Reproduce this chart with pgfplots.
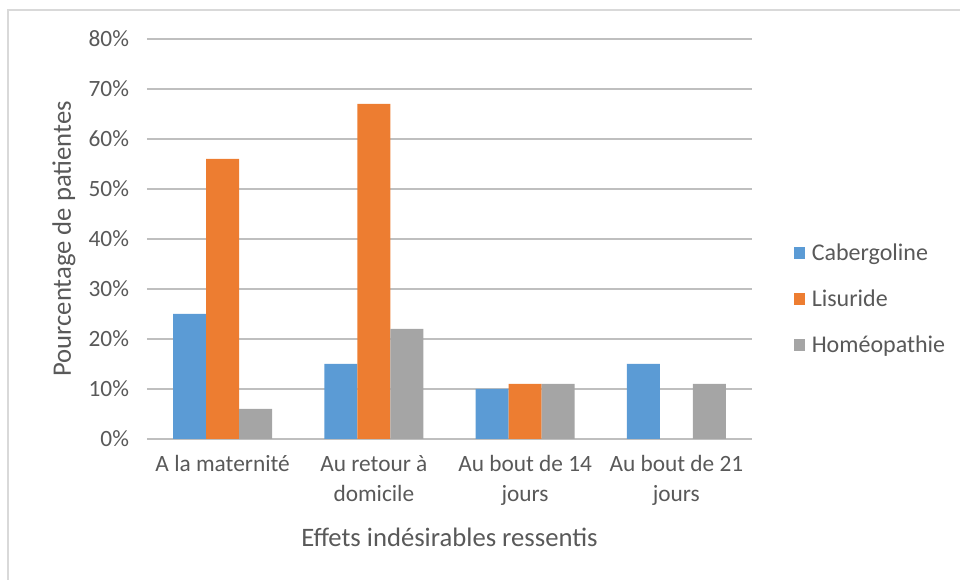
\documentclass[border=0pt]{standalone}
\usepackage{pgfplots}
\pgfplotsset{compat=1.18}
\usepackage{fontspec}
\setmainfont{Carlito}
\definecolor{cblue}{HTML}{5B9BD5}
\definecolor{corange}{HTML}{ED7D31}
\definecolor{cgray}{HTML}{A5A5A5}
\definecolor{txt}{HTML}{595959}
\definecolor{grid}{HTML}{D9D9D9}
\begin{document}
\begin{tikzpicture}[x=0.75pt,y=0.75pt]
\def\px{0.75pt}
\path[use as bounding box] (-147,-141) rectangle (813,439);
\draw[grid,line width=1.5pt] (-139,-141) -- (-139,429) -- (813,429);
\begin{axis}[
  at={(0,0)}, anchor=south west,
  scale only axis,
  width=605*\px, height=400*\px,
  xmin=-0.5, xmax=3.5,
  ymin=0, ymax=80,
  ybar=0pt, bar width=33*\px,
  xtick={0,1,2,3},
  xticklabels={A la maternité, {Au retour à\\domicile}, {Au bout de 14\\jours}, {Au bout de 21\\jours}},
  x tick label style={align=center, text=txt, font=\fontsize{17.5}{22.5}\selectfont, yshift=-9pt},
  ytick={0,10,...,80},
  yticklabels={0\%,10\%,20\%,30\%,40\%,50\%,60\%,70\%,80\%},
  y tick label style={text=txt, font=\fontsize{17.5}{21}\selectfont, xshift=-10pt},
  major tick length=0pt,
  tick style={draw=none},
  xmajorgrids=false,
  ymajorgrids=true, grid style={grid, line width=0.9pt},
  axis line style={draw=none},
  xlabel={Effets indésirables ressentis},
  ylabel={Pourcentage de patientes},
  xlabel style={text=txt, font=\fontsize{20}{24}\selectfont, yshift=-10pt},
  ylabel style={text=txt, font=\fontsize{20}{24}\selectfont, yshift=3pt},
  legend style={at={(1.062,0.35)}, anchor=west, draw=none, fill=none,
    font=\fontsize{18}{21}\selectfont, text=txt, row sep=16.5pt},
  legend cell align=left,
  legend image code/.code={\fill[#1] (0pt,-4.2pt) rectangle (8.4pt,4.2pt); \path (11.5pt,0pt);},
]
\addplot[fill=cblue, draw=none] coordinates {(0,25) (1,15) (2,10) (3,15)};
\addplot[fill=corange, draw=none] coordinates {(0,56) (1,67) (2,11)};
\addplot[fill=cgray, draw=none] coordinates {(0,6) (1,22) (2,11) (3,11)};
\legend{Cabergoline, Lisuride, Homéopathie}
\end{axis}
\end{tikzpicture}
\end{document}
